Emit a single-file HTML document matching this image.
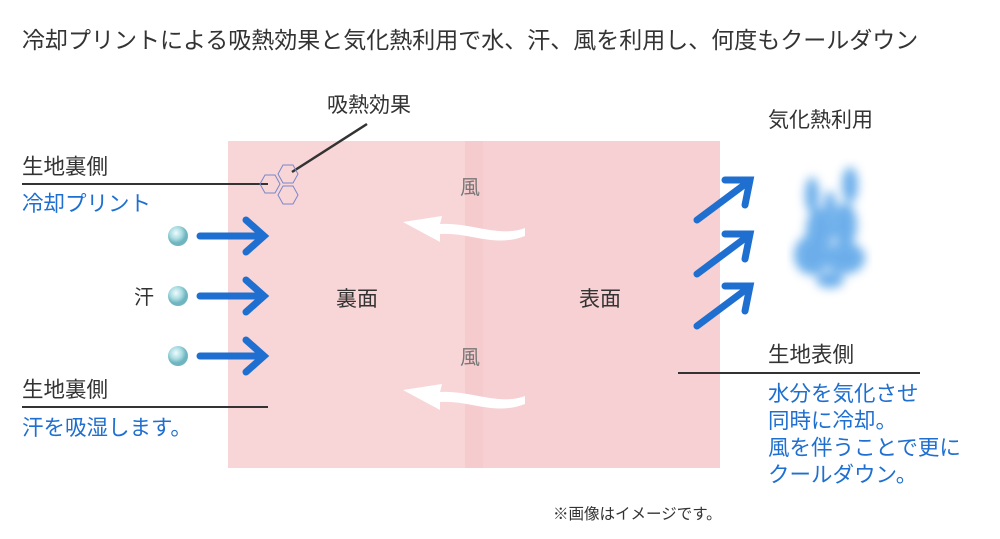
<!DOCTYPE html>
<html><head><meta charset="utf-8"><style>
body{margin:0;width:1000px;height:539px;background:#fff;position:relative;overflow:hidden;font-family:"Liberation Sans","Noto Sans CJK JP",sans-serif;color:#333}
.t{position:absolute;white-space:nowrap;line-height:1}
.b{color:#1e6fd0}
</style></head><body>
<div class="t" style="left:22px;top:29px;font-size:23px;color:#333">冷却プリントによる吸熱効果と気化熱利用で水、汗、風を利用し、何度もクールダウン</div>
<div style="position:absolute;left:228px;top:141px;width:492px;height:327px;background:#f7d3d5"></div>
<div style="position:absolute;left:228px;top:141px;width:240px;height:327px;background:#f8d6d7"></div>
<div style="position:absolute;left:465px;top:141px;width:18px;height:327px;background:#f5cbce"></div>
<div style="position:absolute;left:483px;top:141px;width:237px;height:327px;background:#f6d0d2"></div>
<svg width="1000" height="539" style="position:absolute;left:0;top:0">
<defs><filter id="bl"><feGaussianBlur stdDeviation="5"/></filter>
<radialGradient id="dr" cx="40%" cy="35%"><stop offset="0" stop-color="#f0fbfc"/><stop offset="0.6" stop-color="#a9dce2"/><stop offset="1" stop-color="#6fb5bf"/></radialGradient></defs>
<line x1="22" y1="184" x2="268" y2="184" stroke="#333" stroke-width="2"/>
<line x1="22" y1="407" x2="268" y2="407" stroke="#333" stroke-width="2"/>
<line x1="678" y1="373" x2="920" y2="373" stroke="#333" stroke-width="2"/>
<line x1="367" y1="124" x2="292" y2="172" stroke="#333" stroke-width="2.5"/>
<g fill="none" stroke="#7a86c8" stroke-width="1">
<polygon points="260,184 265,175 275,175 280,184 275,193 265,193"/>
<polygon points="278,174 283,165 293,165 298,174 293,183 283,183"/>
<polygon points="278,195 283,186 293,186 298,195 293,204 283,204"/>
</g>
<g stroke="#1e6fd0" stroke-width="7" fill="none" stroke-linecap="round">
<line x1="200" y1="236" x2="262" y2="236"/><polyline points="246,220 264,236 246,252"/>
<line x1="200" y1="296" x2="262" y2="296"/><polyline points="246,280 264,296 246,312"/>
<line x1="200" y1="356" x2="262" y2="356"/><polyline points="246,340 264,356 246,372"/>
<line x1="697" y1="220" x2="748" y2="182"/><polyline points="725,180 750,180 745,205"/>
<line x1="697" y1="274" x2="748" y2="236"/><polyline points="725,234 750,234 745,259"/>
<line x1="697" y1="326" x2="748" y2="288"/><polyline points="725,286 750,286 745,311"/>
</g>
<g fill="url(#dr)"><circle cx="178" cy="236" r="10"/><circle cx="178" cy="296" r="10"/><circle cx="178" cy="356" r="10"/></g>
<g fill="#fff">
<path d="M525,228 C500,238 470,222 440,224 L442,216 L403,222 L440,242 L440,234 C470,232 495,248 525,236Z"/>
<path d="M525,396 C500,406 470,390 440,392 L442,384 L403,390 L440,410 L440,402 C470,400 495,416 525,404Z"/>
</g>
<g fill="#4a9be6" filter="url(#bl)" opacity="0.8">
<ellipse cx="812" cy="255" rx="18" ry="20"/><ellipse cx="845" cy="258" rx="20" ry="16"/>
<ellipse cx="820" cy="230" rx="14" ry="22"/><ellipse cx="845" cy="225" rx="12" ry="22"/>
<ellipse cx="812" cy="195" rx="7" ry="18"/><ellipse cx="850" cy="185" rx="8" ry="18"/>
<ellipse cx="830" cy="205" rx="6" ry="14"/><ellipse cx="830" cy="280" rx="14" ry="8"/>
</g>
</svg>
<div class="t" style="left:327px;top:95px;font-size:21px">吸熱効果</div>
<div class="t" style="left:768px;top:110px;font-size:21px">気化熱利用</div>
<div class="t" style="left:22px;top:157px;font-size:21.5px">生地裏側</div>
<div class="t b" style="left:22px;top:194px;font-size:21.5px">冷却プリント</div>
<div class="t" style="left:134px;top:288px;font-size:20px">汗</div>
<div class="t" style="left:22px;top:380px;font-size:21.5px">生地裏側</div>
<div class="t b" style="left:22px;top:418px;font-size:21.5px">汗を吸湿します。</div>
<div class="t" style="left:460px;top:178px;font-size:20px;color:#777">風</div>
<div class="t" style="left:460px;top:348px;font-size:20px;color:#777">風</div>
<div class="t" style="left:336px;top:289px;font-size:21px">裏面</div>
<div class="t" style="left:579px;top:289px;font-size:21px">表面</div>
<div class="t" style="left:768px;top:345px;font-size:21.5px">生地表側</div>
<div class="t b" style="left:768px;top:381px;font-size:21.5px;line-height:27px">水分を気化させ<br>同時に冷却。<br>風を伴うことで更に<br>クールダウン。</div>
<div class="t" style="left:553px;top:507px;font-size:15.5px">※画像はイメージです。</div>
</body></html>
